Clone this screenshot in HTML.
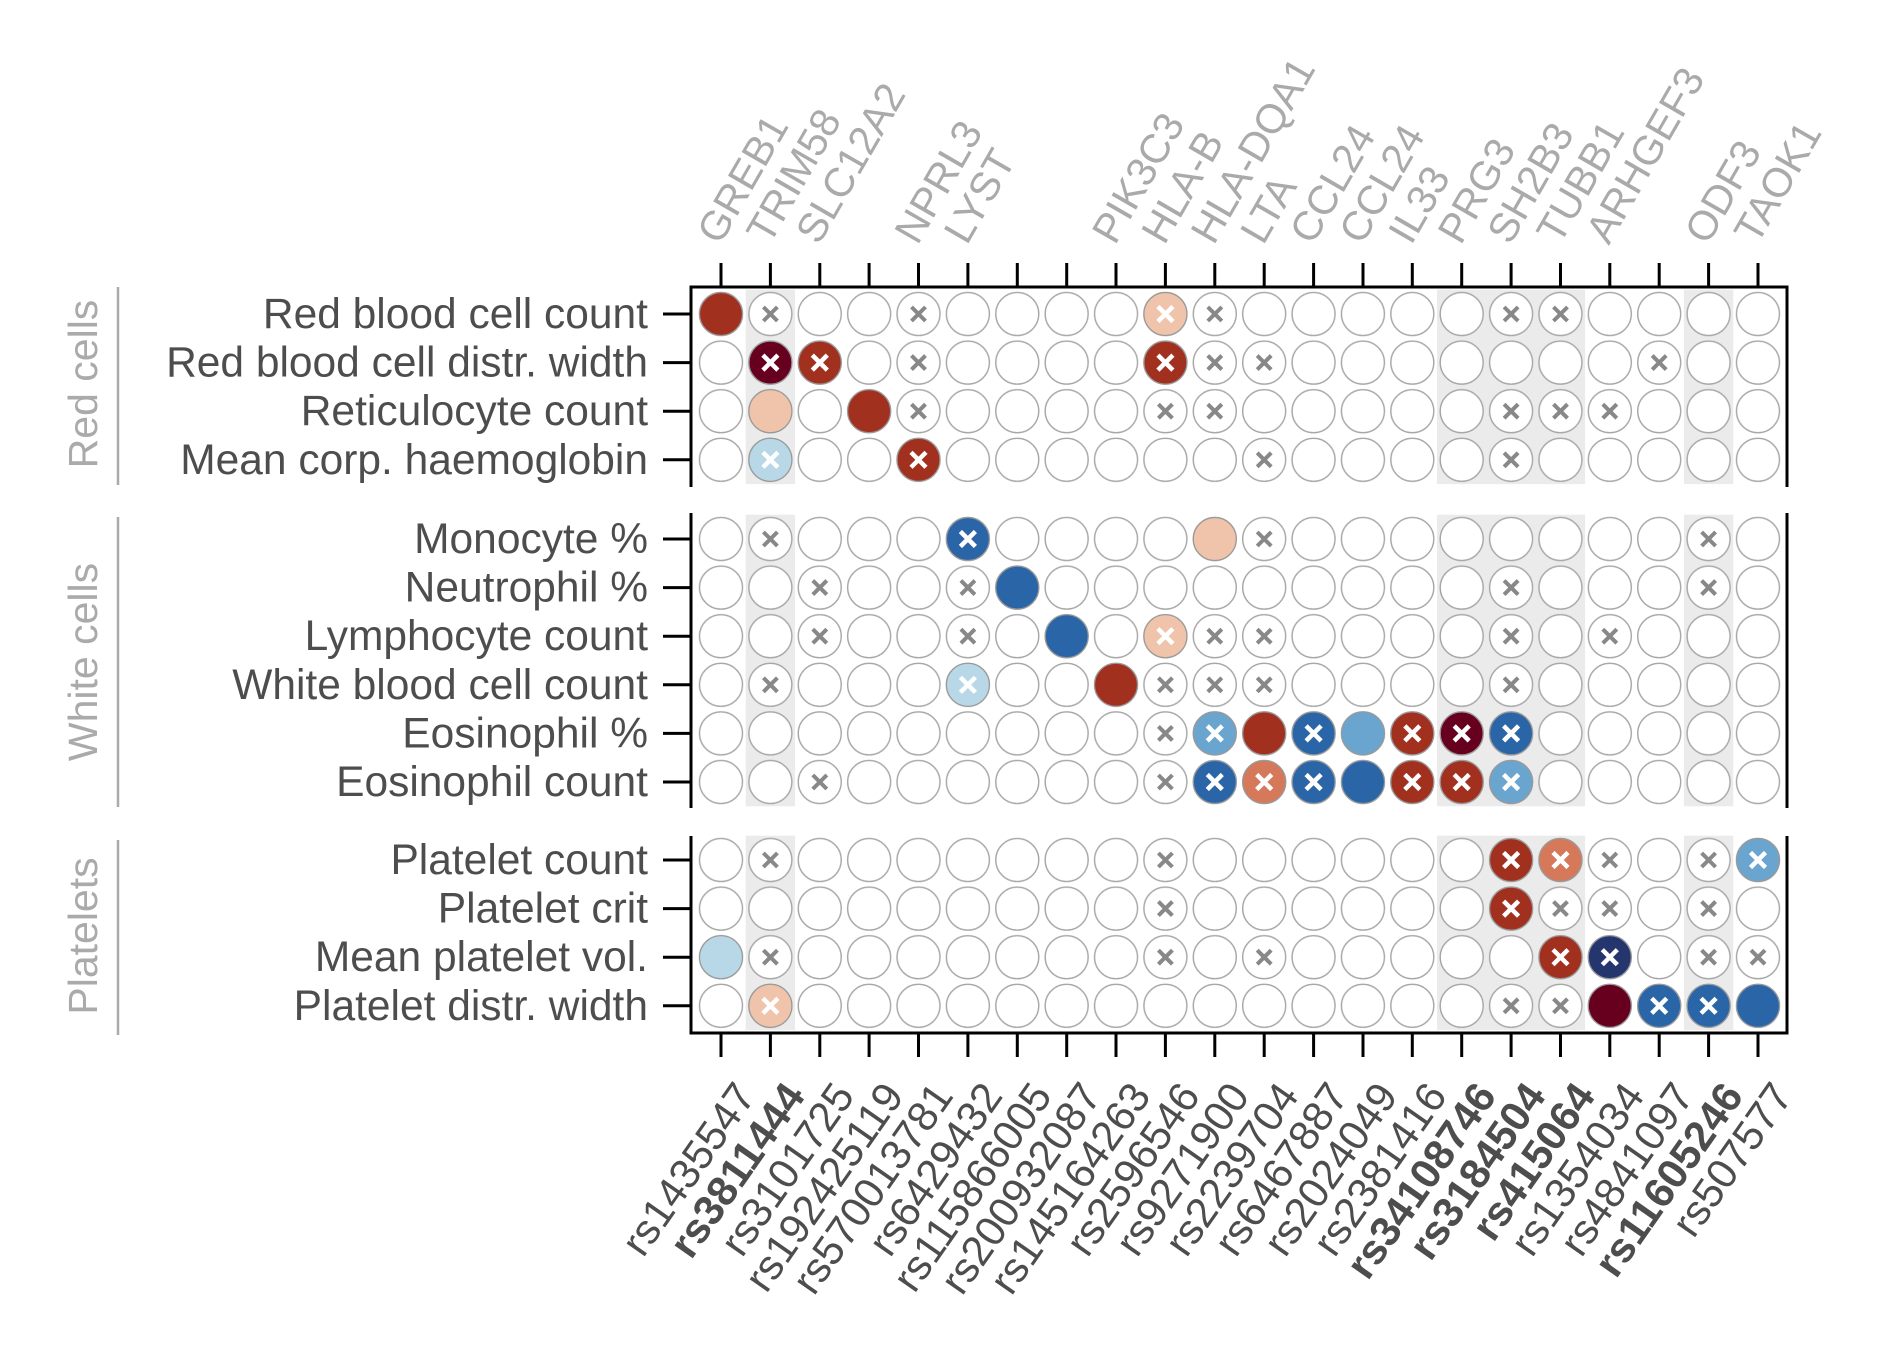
<!DOCTYPE html>
<html><head><meta charset="utf-8"><style>
html,body{margin:0;padding:0;background:#fff;}
svg{display:block;}
text{font-family:"Liberation Sans",Arial,sans-serif;}
</style></head><body>
<svg width="1890" height="1370" viewBox="0 0 1890 1370" xmlns="http://www.w3.org/2000/svg">
<defs>
<pattern id="pc" patternUnits="userSpaceOnUse" x="696.31" y="0" width="49.38" height="48.6">
<circle cx="24.69" cy="24.3" r="21.5" fill="#fff" stroke="#a6a6a6" stroke-width="1.4"/>
</pattern>
<pattern id="pc1" href="#pc" y="289.7"/>
<pattern id="pc2" href="#pc" y="514.7"/>
<pattern id="pc3" href="#pc" y="835.7"/>
<path id="gx" d="M-7,-7L7,7M7,-7L-7,7" stroke="#888" stroke-width="4" fill="none"/>
<path id="wx" d="M-7.5,-7.5L7.5,7.5M7.5,-7.5L-7.5,7.5" stroke="#fff" stroke-width="4.5" fill="none"/>
</defs>

<g fill="#ebebeb">
<rect x="745.7" y="289.7" width="49.38" height="194.4"/><rect x="1437" y="289.7" width="148.1" height="194.4"/><rect x="1683.9" y="289.7" width="49.38" height="194.4"/>
<rect x="745.7" y="514.7" width="49.38" height="291.6"/><rect x="1437" y="514.7" width="148.1" height="291.6"/><rect x="1683.9" y="514.7" width="49.38" height="291.6"/>
<rect x="745.7" y="835.7" width="49.38" height="194.4"/><rect x="1437" y="835.7" width="148.1" height="194.4"/><rect x="1683.9" y="835.7" width="49.38" height="194.4"/>
</g>

<rect x="696.31" y="289.7" width="1086.4" height="194.4" fill="url(#pc1)"/>
<rect x="696.31" y="514.7" width="1086.4" height="291.6" fill="url(#pc2)"/>
<rect x="696.31" y="835.7" width="1086.4" height="194.4" fill="url(#pc3)"/>

<g stroke="#999" stroke-width="1.2">
<circle cx="721" cy="314" r="21.5" fill="#a1301f"/>
<circle cx="1165.4" cy="314" r="21.5" fill="#f0c4ab"/>
<circle cx="770.4" cy="362.6" r="21.5" fill="#67001f"/>
<circle cx="819.8" cy="362.6" r="21.5" fill="#a1301f"/>
<circle cx="1165.4" cy="362.6" r="21.5" fill="#a1301f"/>
<circle cx="770.4" cy="411.2" r="21.5" fill="#f0c4ab"/>
<circle cx="869.1" cy="411.2" r="21.5" fill="#a1301f"/>
<circle cx="770.4" cy="459.8" r="21.5" fill="#b8d8e8"/>
<circle cx="918.5" cy="459.8" r="21.5" fill="#a1301f"/>
<circle cx="967.9" cy="539" r="21.5" fill="#2a65a8"/>
<circle cx="1214.8" cy="539" r="21.5" fill="#f0c4ab"/>
<circle cx="1017.3" cy="587.6" r="21.5" fill="#2a65a8"/>
<circle cx="1066.7" cy="636.2" r="21.5" fill="#2a65a8"/>
<circle cx="1165.4" cy="636.2" r="21.5" fill="#f0c4ab"/>
<circle cx="967.9" cy="684.8" r="21.5" fill="#b8d8e8"/>
<circle cx="1116" cy="684.8" r="21.5" fill="#a1301f"/>
<circle cx="1214.8" cy="733.4" r="21.5" fill="#6aa5d0"/>
<circle cx="1264.2" cy="733.4" r="21.5" fill="#a1301f"/>
<circle cx="1313.6" cy="733.4" r="21.5" fill="#2a65a8"/>
<circle cx="1363" cy="733.4" r="21.5" fill="#6aa5d0"/>
<circle cx="1412.3" cy="733.4" r="21.5" fill="#a1301f"/>
<circle cx="1461.7" cy="733.4" r="21.5" fill="#67001f"/>
<circle cx="1511.1" cy="733.4" r="21.5" fill="#2a65a8"/>
<circle cx="1214.8" cy="782" r="21.5" fill="#2a65a8"/>
<circle cx="1264.2" cy="782" r="21.5" fill="#d6795a"/>
<circle cx="1313.6" cy="782" r="21.5" fill="#2a65a8"/>
<circle cx="1363" cy="782" r="21.5" fill="#2a65a8"/>
<circle cx="1412.3" cy="782" r="21.5" fill="#a1301f"/>
<circle cx="1461.7" cy="782" r="21.5" fill="#a1301f"/>
<circle cx="1511.1" cy="782" r="21.5" fill="#6aa5d0"/>
<circle cx="1511.1" cy="860" r="21.5" fill="#a1301f"/>
<circle cx="1560.5" cy="860" r="21.5" fill="#d6795a"/>
<circle cx="1758" cy="860" r="21.5" fill="#6aa5d0"/>
<circle cx="1511.1" cy="908.6" r="21.5" fill="#a1301f"/>
<circle cx="721" cy="957.2" r="21.5" fill="#b8d8e8"/>
<circle cx="1560.5" cy="957.2" r="21.5" fill="#a1301f"/>
<circle cx="1609.8" cy="957.2" r="21.5" fill="#25366f"/>
<circle cx="770.4" cy="1005.8" r="21.5" fill="#f0c4ab"/>
<circle cx="1609.8" cy="1005.8" r="21.5" fill="#67001f"/>
<circle cx="1659.2" cy="1005.8" r="21.5" fill="#2a65a8"/>
<circle cx="1708.6" cy="1005.8" r="21.5" fill="#2a65a8"/>
<circle cx="1758" cy="1005.8" r="21.5" fill="#2a65a8"/>
</g>

<g>
<use href="#gx" x="770.4" y="314"/><use href="#gx" x="918.5" y="314"/><use href="#gx" x="1214.8" y="314"/><use href="#gx" x="1511.1" y="314"/><use href="#gx" x="1560.5" y="314"/>
<use href="#gx" x="918.5" y="362.6"/><use href="#gx" x="1214.8" y="362.6"/><use href="#gx" x="1264.2" y="362.6"/><use href="#gx" x="1659.2" y="362.6"/>
<use href="#gx" x="918.5" y="411.2"/><use href="#gx" x="1165.4" y="411.2"/><use href="#gx" x="1214.8" y="411.2"/><use href="#gx" x="1511.1" y="411.2"/><use href="#gx" x="1560.5" y="411.2"/><use href="#gx" x="1609.8" y="411.2"/>
<use href="#gx" x="1264.2" y="459.8"/><use href="#gx" x="1511.1" y="459.8"/>
<use href="#gx" x="770.4" y="539"/><use href="#gx" x="1264.2" y="539"/><use href="#gx" x="1708.6" y="539"/>
<use href="#gx" x="819.8" y="587.6"/><use href="#gx" x="967.9" y="587.6"/><use href="#gx" x="1511.1" y="587.6"/><use href="#gx" x="1708.6" y="587.6"/>
<use href="#gx" x="819.8" y="636.2"/><use href="#gx" x="967.9" y="636.2"/><use href="#gx" x="1214.8" y="636.2"/><use href="#gx" x="1264.2" y="636.2"/><use href="#gx" x="1511.1" y="636.2"/><use href="#gx" x="1609.8" y="636.2"/>
<use href="#gx" x="770.4" y="684.8"/><use href="#gx" x="1165.4" y="684.8"/><use href="#gx" x="1214.8" y="684.8"/><use href="#gx" x="1264.2" y="684.8"/><use href="#gx" x="1511.1" y="684.8"/>
<use href="#gx" x="1165.4" y="733.4"/>
<use href="#gx" x="819.8" y="782"/><use href="#gx" x="1165.4" y="782"/>
<use href="#gx" x="770.4" y="860"/><use href="#gx" x="1165.4" y="860"/><use href="#gx" x="1609.8" y="860"/><use href="#gx" x="1708.6" y="860"/>
<use href="#gx" x="1165.4" y="908.6"/><use href="#gx" x="1560.5" y="908.6"/><use href="#gx" x="1609.8" y="908.6"/><use href="#gx" x="1708.6" y="908.6"/>
<use href="#gx" x="770.4" y="957.2"/><use href="#gx" x="1165.4" y="957.2"/><use href="#gx" x="1264.2" y="957.2"/><use href="#gx" x="1708.6" y="957.2"/><use href="#gx" x="1758" y="957.2"/>
<use href="#gx" x="1511.1" y="1005.8"/><use href="#gx" x="1560.5" y="1005.8"/>
</g>

<g>
<use href="#wx" x="1165.4" y="314"/>
<use href="#wx" x="770.4" y="362.6"/><use href="#wx" x="819.8" y="362.6"/><use href="#wx" x="1165.4" y="362.6"/>
<use href="#wx" x="770.4" y="459.8"/><use href="#wx" x="918.5" y="459.8"/>
<use href="#wx" x="967.9" y="539"/>
<use href="#wx" x="1165.4" y="636.2"/>
<use href="#wx" x="967.9" y="684.8"/>
<use href="#wx" x="1214.8" y="733.4"/><use href="#wx" x="1313.6" y="733.4"/><use href="#wx" x="1412.3" y="733.4"/><use href="#wx" x="1461.7" y="733.4"/><use href="#wx" x="1511.1" y="733.4"/>
<use href="#wx" x="1214.8" y="782"/><use href="#wx" x="1264.2" y="782"/><use href="#wx" x="1313.6" y="782"/><use href="#wx" x="1412.3" y="782"/><use href="#wx" x="1461.7" y="782"/><use href="#wx" x="1511.1" y="782"/>
<use href="#wx" x="1511.1" y="860"/><use href="#wx" x="1560.5" y="860"/><use href="#wx" x="1758" y="860"/>
<use href="#wx" x="1511.1" y="908.6"/>
<use href="#wx" x="1560.5" y="957.2"/><use href="#wx" x="1609.8" y="957.2"/>
<use href="#wx" x="770.4" y="1005.8"/><use href="#wx" x="1659.2" y="1005.8"/><use href="#wx" x="1708.6" y="1005.8"/>
</g>

<g stroke="#000" stroke-width="3" fill="none">
<path d="M691,286V487M691,513V808M691,836V1034"/>
<path d="M1787,286V487M1787,513V808M1787,836V1034"/>
<path d="M689.5,287H1788.5M689.5,1033H1788.5"/>
<path d="M721,263V287M770.4,263V287M819.8,263V287M869.1,263V287M918.5,263V287M967.9,263V287M1017.3,263V287M1066.7,263V287M1116,263V287M1165.4,263V287M1214.8,263V287M1264.2,263V287M1313.6,263V287M1363,263V287M1412.3,263V287M1461.7,263V287M1511.1,263V287M1560.5,263V287M1609.8,263V287M1659.2,263V287M1708.6,263V287M1758,263V287"/>
<path d="M721,1033V1057M770.4,1033V1057M819.8,1033V1057M869.1,1033V1057M918.5,1033V1057M967.9,1033V1057M1017.3,1033V1057M1066.7,1033V1057M1116,1033V1057M1165.4,1033V1057M1214.8,1033V1057M1264.2,1033V1057M1313.6,1033V1057M1363,1033V1057M1412.3,1033V1057M1461.7,1033V1057M1511.1,1033V1057M1560.5,1033V1057M1609.8,1033V1057M1659.2,1033V1057M1708.6,1033V1057M1758,1033V1057"/>
<path d="M663,314H691M663,362.6H691M663,411.2H691M663,459.8H691M663,539H691M663,587.6H691M663,636.2H691M663,684.8H691M663,733.4H691M663,782H691M663,860H691M663,908.6H691M663,957.2H691M663,1005.8H691"/>
</g>

<g stroke="#aaa" stroke-width="2.5">
<path d="M118,287V485M118,517V807M118,840V1035"/>
</g>
<g fill="#aaa" font-size="41" text-anchor="middle">
<text transform="translate(97,384) rotate(-90)">Red cells</text>
<text transform="translate(97,662) rotate(-90)">White cells</text>
<text transform="translate(97,936) rotate(-90)">Platelets</text>
</g>

<g fill="#4d4d4d" font-size="42.5" text-anchor="end">
<text x="648" y="328">Red blood cell count</text>
<text x="648" y="376.6">Red blood cell distr. width</text>
<text x="648" y="425.2">Reticulocyte count</text>
<text x="648" y="473.8">Mean corp. haemoglobin</text>
<text x="648" y="553">Monocyte %</text>
<text x="648" y="601.6">Neutrophil %</text>
<text x="648" y="650.2">Lymphocyte count</text>
<text x="648" y="698.8">White blood cell count</text>
<text x="648" y="747.4">Eosinophil %</text>
<text x="648" y="796">Eosinophil count</text>
<text x="648" y="874">Platelet count</text>
<text x="648" y="922.6">Platelet crit</text>
<text x="648" y="971.2">Mean platelet vol.</text>
<text x="648" y="1019.8">Platelet distr. width</text>
</g>

<g fill="#aaa" font-size="41">
<text transform="translate(720,246) rotate(-60)">GREB1</text>
<text transform="translate(769.4,246) rotate(-60)">TRIM58</text>
<text transform="translate(818.8,246) rotate(-60)">SLC12A2</text>
<text transform="translate(917.5,246) rotate(-60)">NPRL3</text>
<text transform="translate(966.9,246) rotate(-60)">LYST</text>
<text transform="translate(1115,246) rotate(-60)">PIK3C3</text>
<text transform="translate(1164.4,246) rotate(-60)">HLA-B</text>
<text transform="translate(1213.8,246) rotate(-60)">HLA-DQA1</text>
<text transform="translate(1263.2,246) rotate(-60)">LTA</text>
<text transform="translate(1312.6,246) rotate(-60)">CCL24</text>
<text transform="translate(1362,246) rotate(-60)">CCL24</text>
<text transform="translate(1411.3,246) rotate(-60)">IL33</text>
<text transform="translate(1460.7,246) rotate(-60)">PRG3</text>
<text transform="translate(1510.1,246) rotate(-60)">SH2B3</text>
<text transform="translate(1559.5,246) rotate(-60)">TUBB1</text>
<text transform="translate(1608.8,246) rotate(-60)">ARHGEF3</text>
<text transform="translate(1707.6,246) rotate(-60)">ODF3</text>
<text transform="translate(1757,246) rotate(-60)">TAOK1</text>
</g>

<g fill="#4d4d4d" font-size="42" text-anchor="end">
<text transform="translate(757,1096) rotate(-55)">rs1435547</text>
<text transform="translate(806.4,1096) rotate(-55)" font-weight="bold">rs3811444</text>
<text transform="translate(855.8,1096) rotate(-55)">rs3101725</text>
<text transform="translate(905.1,1096) rotate(-55)">rs192425119</text>
<text transform="translate(954.5,1096) rotate(-55)">rs570013781</text>
<text transform="translate(1003.9,1096) rotate(-55)">rs6429432</text>
<text transform="translate(1053.3,1096) rotate(-55)">rs115866005</text>
<text transform="translate(1102.7,1096) rotate(-55)">rs200932087</text>
<text transform="translate(1152,1096) rotate(-55)">rs145164263</text>
<text transform="translate(1201.4,1096) rotate(-55)">rs2596546</text>
<text transform="translate(1250.8,1096) rotate(-55)">rs9271900</text>
<text transform="translate(1300.2,1096) rotate(-55)">rs2239704</text>
<text transform="translate(1349.6,1096) rotate(-55)">rs6467887</text>
<text transform="translate(1399,1096) rotate(-55)">rs2024049</text>
<text transform="translate(1448.3,1096) rotate(-55)">rs2381416</text>
<text transform="translate(1497.7,1096) rotate(-55)" font-weight="bold">rs34108746</text>
<text transform="translate(1547.1,1096) rotate(-55)" font-weight="bold">rs3184504</text>
<text transform="translate(1596.5,1096) rotate(-55)" font-weight="bold">rs415064</text>
<text transform="translate(1645.8,1096) rotate(-55)">rs1354034</text>
<text transform="translate(1695.2,1096) rotate(-55)">rs4841097</text>
<text transform="translate(1744.6,1096) rotate(-55)" font-weight="bold">rs11605246</text>
<text transform="translate(1794,1096) rotate(-55)">rs507577</text>
</g>
</svg>
</body></html>
